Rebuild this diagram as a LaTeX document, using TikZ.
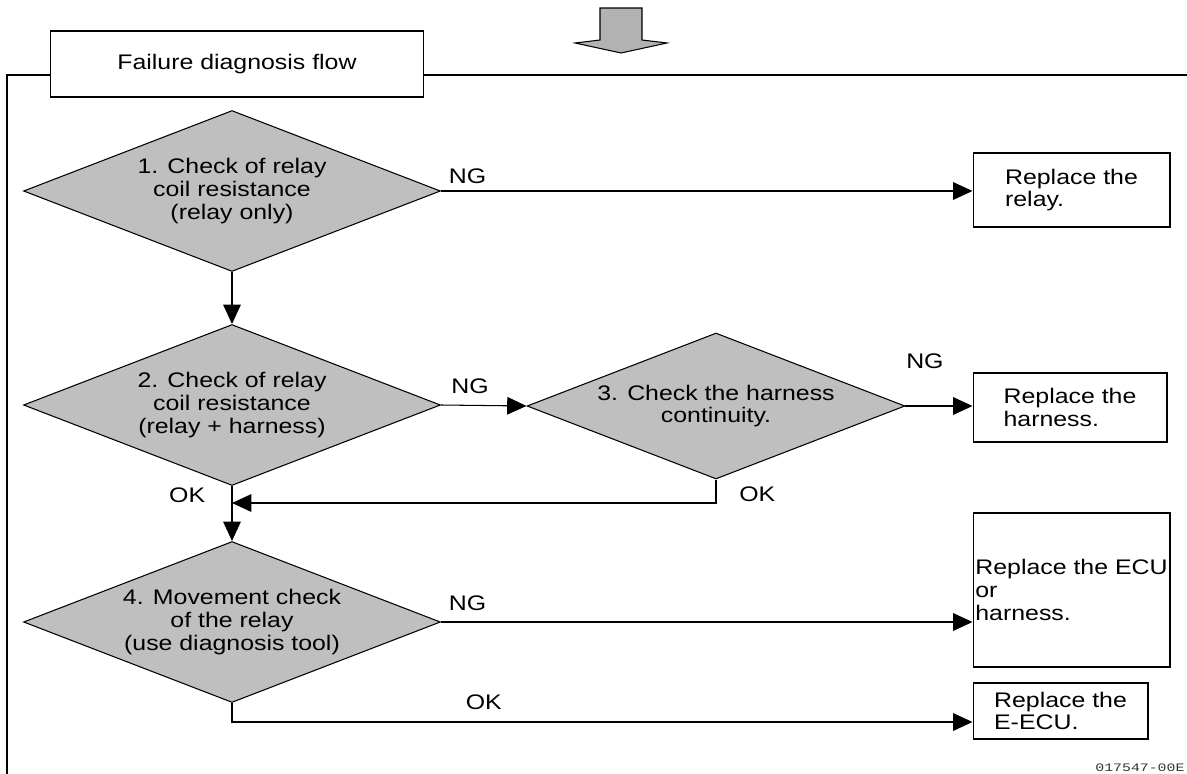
\documentclass[tikz,border=0pt]{standalone}
\usepackage{fontspec}
\setmainfont{Liberation Sans}[FakeStretch=1.18]
\setmonofont{Liberation Mono}[FakeStretch=1.3]
\usetikzlibrary{arrows.meta,shapes.geometric}

\begin{document}
\begin{tikzpicture}[
  x=0.02cm,
  y=-0.02cm,
  >={Triangle[length=11pt,width=10pt]},
  ->,
  line width=0.6pt,
  every node/.style={font=\fontsize{12}{13}\selectfont},
  check node/.style={diamond,draw,fill=black!25,shape aspect=2.6,align=center,inner sep=0pt,minimum width=8.34cm,minimum height=3.22cm},
  fix node/.style={rectangle,draw,fill=white,align=left,inner sep=0pt},
  edge label/.style={inner sep=0pt},
]
\useasboundingbox (0,0) rectangle (1187,774);
\draw[-,fill=black!30] (600,8) -- (642,8) -- (642,40) -- (667,43) -- (621,53) -- (575,43) -- (600,40) -- cycle;
\node[fix node,align=center,minimum width=7.48cm,minimum height=1.32cm] (title) at (237,64) {Failure diagnosis flow};
\coordinate (fl) at (7,75);
\draw[-] (7,774) -- (fl) -- (fl -| title.west);
\draw[-] (title.east |- fl) -- (1187,75);
\node[check node] (c1) at (232,191) {1. Check of relay\\coil resistance\\(relay only)};
\node[check node] (c2) at (232,405) {2. Check of relay\\coil resistance\\(relay + harness)};
\node[check node,minimum width=7.56cm,minimum height=2.92cm] (c3) at (716,406) {3. Check the harness\\continuity.};
\node[check node] (c4) at (232,622) {4. Movement check\\of the relay\\(use diagnosis tool)};
\node[fix node,minimum width=3.94cm,minimum height=1.48cm] (r1) at (1071.5,190) {Replace the\\relay.};
\node[fix node,minimum width=3.88cm,minimum height=1.38cm] (r2) at (1070,407.5) {Replace the\\harness.};
\node[fix node,minimum width=3.94cm,minimum height=3.08cm] (r3) at (1071.5,590) {Replace the ECU\\or\\harness.};
\node[fix node,minimum width=3.5cm,minimum height=1.12cm] (r4) at (1060.5,711) {Replace the\\E-ECU.};
\coordinate (j) at (232,503);
\draw (c1.south) -- (c2.north);
\draw (c1.east) -- node[edge label,pos=0.05,above=4pt] {NG} (c1.east -| r1.west);
\draw (c2.east) -- node[edge label,pos=0.34,above=6.5pt] {NG} (c3.west);
\draw (c3.east) -- node[edge label,pos=0.29,above=21pt] {NG} (c3.east -| r2.west);
\draw (c2.south) -- node[edge label,pos=0.16,left=15pt] {OK} (c4.north);
\draw (c3.south) |- node[edge label,pos=0.31,right=13pt] {OK} (j);
\draw (c4.east) -- node[edge label,pos=0.05,above=6pt] {NG} (c4.east -| r3.west);
\draw (c4.south) |- node[edge label,pos=0.67,above=6.5pt] {OK} ([yshift=-0.22cm]r4.west);
\node[font=\ttfamily\fontsize{6.5}{7}\selectfont,text=black!80,anchor=south east,inner sep=0pt] (code) at (1185,772) {017547-00E};
\end{tikzpicture}
\end{document}
